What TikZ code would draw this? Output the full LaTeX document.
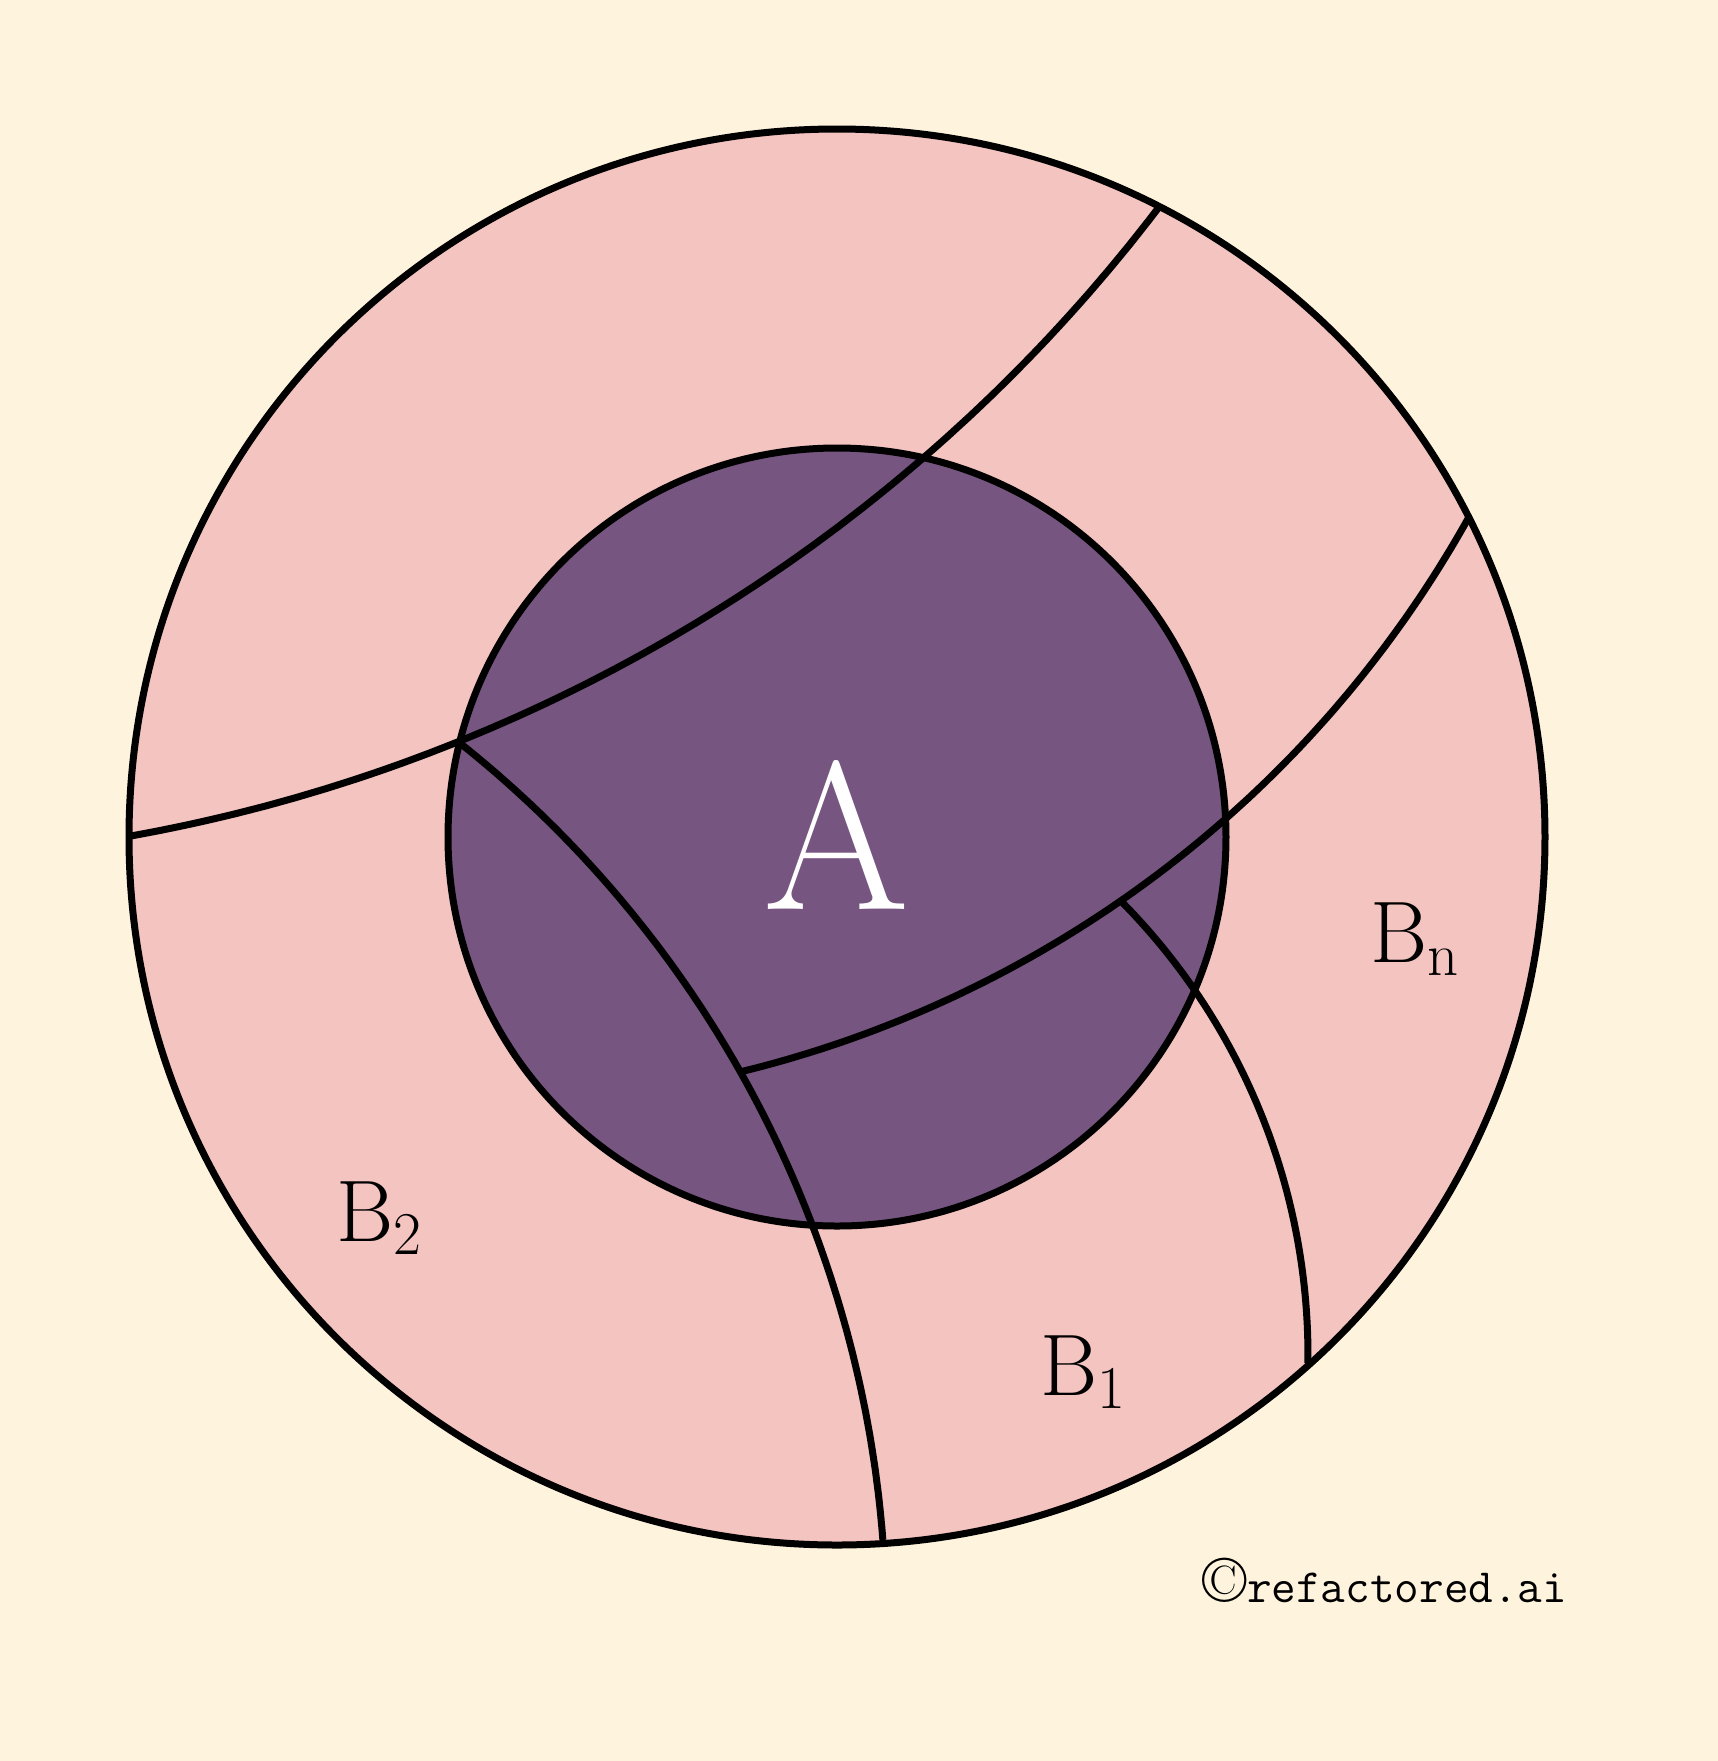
\documentclass[tikz,border=0pt]{standalone}
\definecolor{bgcream}{RGB}{254,243,221}
\definecolor{ringpink}{RGB}{244,196,192}
\definecolor{corepurple}{RGB}{118,85,128}
\tikzset{
  edgeline/.style={line width=0.7mm, draw=black},
  blabel/.style={anchor=base west, inner sep=0pt, text=black, font=\fontsize{23.5}{28}\selectfont},
}
\begin{document}
\begin{tikzpicture}[x=0.1mm, y=-0.1mm]
  \useasboundingbox (0,0) rectangle (1718,1761);
  \fill[bgcream] (0,0) rectangle (1718,1761);
  \coordinate (C) at (837,837);
  % regions
  \fill[ringpink] (C) circle[radius=708];
  \fill[corepurple] (C) circle[radius=389];
  % dividing curves (circular arcs)
  \draw[edgeline] plot[domain=79.89:37.32, samples=80] ({-162.7+1661*cos(\x)},{-798.8+1661*sin(\x)});
  \draw[edgeline] plot[domain=-51.49:-4.43, samples=80] ({-243.7+1130*cos(\x)},{1627.2+1130*sin(\x)});
  \draw[edgeline] plot[domain=76.30:29.14, samples=80] ({468.8+1145.1*cos(\x)},{-40.5+1145.1*sin(\x)});
  \draw[edgeline] plot[domain=-44.86:0.67, samples=80] ({662.3+645.7*cos(\x)},{1355.5+645.7*sin(\x)});
  % circles
  \draw[edgeline] (C) circle[radius=708];
  \draw[edgeline] (C) circle[radius=389];
  % labels
  \node[text=white, inner sep=0pt, font=\fontsize{60}{72}\selectfont] (A) at (837,835) {A};
  \node[blabel] (Bn) at (1370,962) {$\mathrm{B}_{\mathrm{n}}$};
  \node[blabel] (B2) at (336,1241) {$\mathrm{B}_{\mathrm{2}}$};
  \node[blabel] (B1) at (1040,1395) {$\mathrm{B}_{\mathrm{1}}$};
  \node[anchor=base west, inner sep=0pt, font=\fontsize{13.6}{16}\selectfont\ttfamily] (copy) at (1202,1602) {{\rmfamily\fontsize{18.5}{18}\selectfont\textcopyright}refactored.ai};
\end{tikzpicture}
\end{document}
